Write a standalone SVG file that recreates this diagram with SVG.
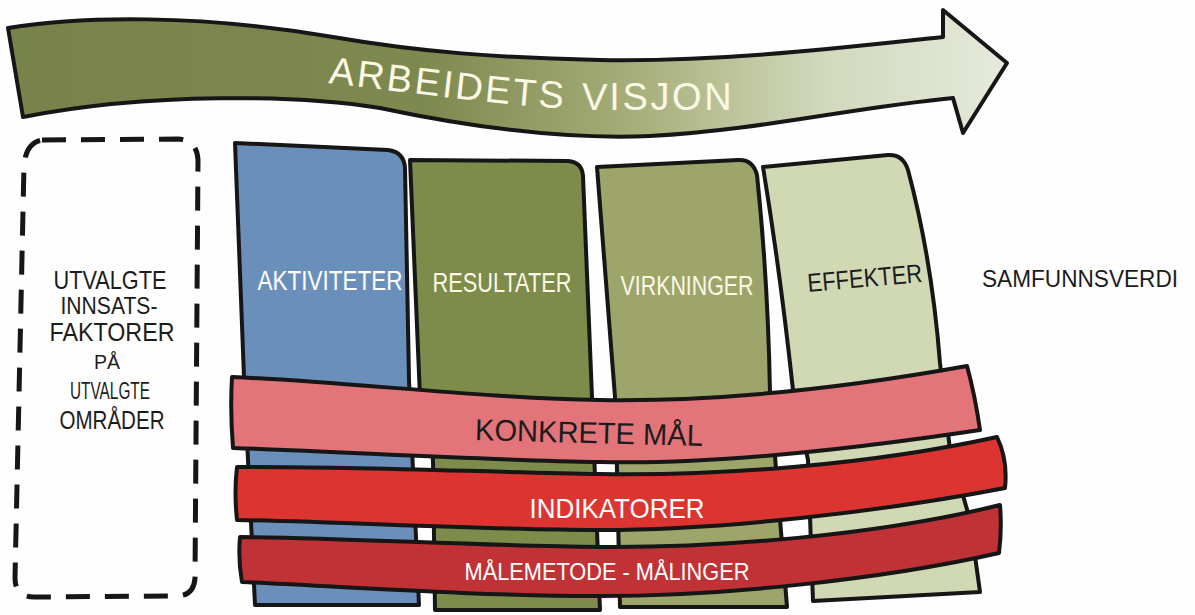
<svg xmlns="http://www.w3.org/2000/svg" width="1195" height="615" viewBox="0 0 1195 615">
<defs>
<linearGradient id="arrowGrad" x1="0" y1="0" x2="1" y2="0" gradientUnits="objectBoundingBox">
<stop offset="0" stop-color="#78824b"/>
<stop offset="0.42" stop-color="#7e894f"/>
<stop offset="0.62" stop-color="#a5ad78"/>
<stop offset="0.82" stop-color="#d2d9bd"/>
<stop offset="1" stop-color="#e6eadb"/>
</linearGradient>
<path id="visionPath" d="M328,83 C430,95 520,108 600,110 L760,110"/>
<style>
.ink{stroke:#161616;stroke-width:4;stroke-linejoin:round;stroke-linecap:round}
.lbl{font-family:"Liberation Sans","DejaVu Sans",sans-serif;text-anchor:middle}
.vis{font-family:"Liberation Sans","DejaVu Sans",sans-serif;text-anchor:start}
.dark{fill:#1c1c1c}
.light{fill:#fbf8e6}
</style>
</defs>
<rect width="1195" height="615" fill="#fefefe"/>

<g id="vision-arrow">
<path class="ink" fill="url(#arrowGrad)" stroke-width="3.5" d="M8,28 C80,16 200,14 333,37 C420,52 500,58 600,60 C720,62 840,48 943,37 L943,10 L1007,63 L963,133 L953,98 C850,108 760,130 650,136 C560,140 460,125 380,108 C300,95 150,92 23,117 Z"/>
<text class="vis light" font-size="38" letter-spacing="2.6"><textPath href="#visionPath">ARBEIDETS<tspan dx="16">VISJON</tspan></textPath></text>
</g>

<g id="input-box">
<path fill="none" stroke="#161616" stroke-width="5" stroke-dasharray="24 15" stroke-linecap="butt" d="M42,140 L178,139 Q197,140 198,160 L195,578 Q194,596 176,596 L34,597 Q15,597 15,578 L24,165 Q26,143 42,140 Z"/>
<text class="lbl dark" x="110" y="289" font-size="26" textLength="113" lengthAdjust="spacingAndGlyphs">UTVALGTE</text>
<text class="lbl dark" x="109" y="314" font-size="23" textLength="97" lengthAdjust="spacingAndGlyphs">INNSATS-</text>
<text class="lbl dark" x="112" y="341" font-size="25" textLength="125" lengthAdjust="spacingAndGlyphs">FAKTORER</text>
<text class="lbl dark" x="107" y="369" font-size="20" textLength="26" lengthAdjust="spacingAndGlyphs">PÅ</text>
<text class="lbl dark" x="110" y="399" font-size="23" textLength="80" lengthAdjust="spacingAndGlyphs">UTVALGTE</text>
<text class="lbl dark" x="112" y="429" font-size="25" textLength="105" lengthAdjust="spacingAndGlyphs">OMRÅDER</text>
</g>

<g id="col-aktiviteter">
<path class="ink" fill="#6b8fbb" d="M235,143 L388,150 Q404,152 405,168 L409,380 L419,605 L255,605 Q248,470 244,377 Z"/>
<text class="lbl" fill="#ffffff" x="330" y="290" font-size="28" textLength="145" lengthAdjust="spacingAndGlyphs">AKTIVITETER</text>
</g>

<g id="col-resultater">
<path class="ink" fill="#7d8b4b" d="M410,160 L568,161 Q582,162 583,176 L592,397 L600,610 L435,610 L433,460 Q425,420 420,397 Z"/>
<text class="lbl light" x="502" y="292" font-size="27" textLength="139" lengthAdjust="spacingAndGlyphs">RESULTATER</text>
</g>

<g id="col-virkninger">
<path class="ink" fill="#9ea56b" d="M597,167 L738,160 Q753,159 757,175 Q768,280 770,393 L787,607 L620,607 L617,470 L615,397 Z"/>
<text class="lbl light" x="687" y="295" font-size="27" textLength="133" lengthAdjust="spacingAndGlyphs">VIRKNINGER</text>
</g>

<g id="col-effekter">
<path class="ink" fill="#d0d8b4" d="M763,167 L888,155 Q903,154 908,170 Q932,260 940,363 L950,450 L970,520 L980,592 L813,601 L808,460 L793,390 Q780,270 763,167 Z"/>
<text class="lbl dark" x="865" y="287" font-size="26" textLength="115" lengthAdjust="spacingAndGlyphs" transform="rotate(-5 865 280)">EFFEKTER</text>
</g>

<g id="samfunnsverdi">
<text class="lbl dark" x="1080" y="287" font-size="23" textLength="196" lengthAdjust="spacingAndGlyphs">SAMFUNNSVERDI</text>
</g>

<g id="band-konkrete-maal">
<path class="ink" fill="#e2747a" d="M232,377 C350,382 480,398 600,400 C720,402 850,387 967,366 Q975,395 980,430 C860,448 720,465 600,462 C480,460 350,452 233,448 Q230,410 232,377 Z"/>
<text class="lbl dark" x="589" y="443" font-size="30" textLength="228" lengthAdjust="spacingAndGlyphs" transform="rotate(1.5 589 432)">KONKRETE MÅL</text>
</g>

<g id="band-indikatorer">
<path class="ink" fill="#dc3431" d="M237,467 C350,466 480,472 600,474 C720,476 870,465 997,437 Q1008,460 1005,488 C880,512 720,530 600,530 C480,530 350,522 237,520 Q234,492 237,467 Z"/>
<text class="lbl" fill="#ffffff" x="617" y="518" font-size="28" textLength="175" lengthAdjust="spacingAndGlyphs">INDIKATORER</text>
</g>

<g id="band-maalemetode">
<path class="ink" fill="#c13236" d="M240,537 C350,538 480,546 600,547 C720,548 880,535 1000,505 Q1002,530 999,553 C880,580 720,596 600,596 C480,596 350,587 242,582 Q238,560 240,537 Z"/>
<text class="lbl" fill="#ffffff" x="607" y="580" font-size="24" textLength="285" lengthAdjust="spacingAndGlyphs">MÅLEMETODE - MÅLINGER</text>
</g>

<g id="connectors"/>
</svg>
